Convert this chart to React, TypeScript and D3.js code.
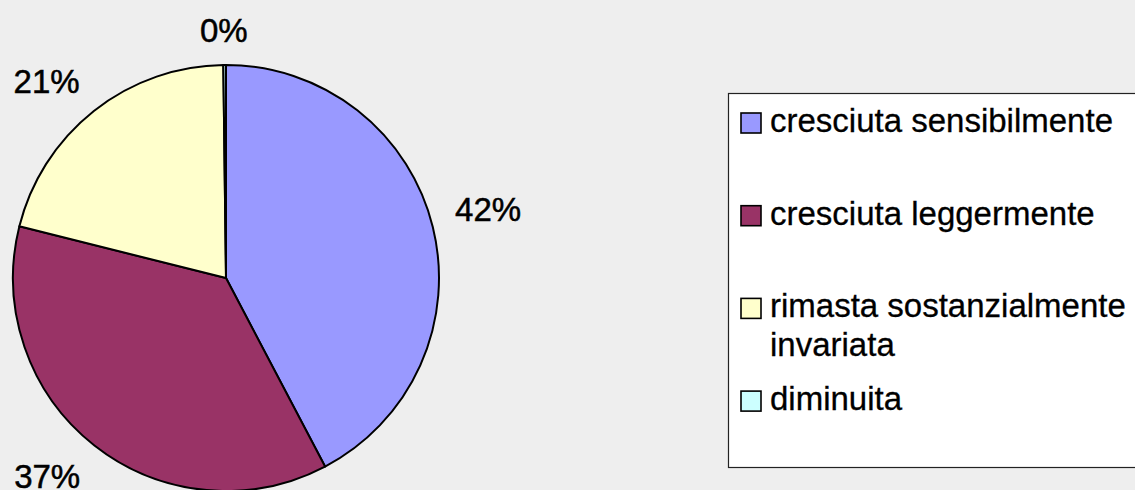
import React from "react";
import * as d3 from "d3";

const categories = [
  "cresciuta sensibilmente",
  "cresciuta leggermente",
  "rimasta sostanzialmente|invariata",
  "diminuita",
];
const values = [42.3, 36.6, 20.9, 0.2];
const colors = ["#9999FF", "#993366", "#FFFFCC", "#CCFFFF"];

const W = 1135;
const H = 490;
const CX = 226;
const CY = 278;
const R = 213;
const FONT = "'Liberation Sans', Arial, Helvetica, sans-serif";
const FS = 33;

export default function App() {
  const total = d3.sum(values);
  const pie = d3.pie<number>().sort(null).startAngle(0).endAngle(2 * Math.PI);
  const arcs = pie(values);
  const arc = d3.arc<d3.PieArcDatum<number>>().innerRadius(0).outerRadius(R);
  const fmt = (v: number) => `${Math.round((v / total) * 100)}%`;

  // Label box: its nearest corner sits on the mid-angle ray, just outside the pie
  const labelPos = (a: d3.PieArcDatum<number>, text: string) => {
    const mid = (a.startAngle + a.endAngle) / 2;
    const s = Math.sin(mid);
    const c = Math.cos(mid);
    const halfW = (text.length === 2 ? 1.445 : 2.0) * FS / 2;
    const halfH = 12;
    const gap = 23;
    const d = R + gap;
    const kx = Math.abs(s) > 0.2 ? Math.sign(s) : s / 0.2;
    const ky = Math.abs(c) > 0.2 ? Math.sign(c) : c / 0.2;
    return { x: CX + s * d + kx * halfW, y: CY - c * d - ky * halfH };
  };

  const legendX = 728;
  const legendY = 93;
  const legendBottom = 467;

  return (
    <div style={{ position: "absolute", left: 0, top: 0 }}>
      <svg width={W} height={H} style={{ display: "block" }}>
        <rect x={0} y={0} width={W} height={H} fill="#EEEEEE" />
        <g transform={`translate(${CX},${CY})`}>
          {arcs.map((a, i) => (
            <path
              key={i}
              d={arc(a) || ""}
              fill={colors[i]}
              stroke="#000"
              strokeWidth={2}
              strokeLinejoin="round"
            />
          ))}
        </g>
        {arcs.map((a, i) => {
          const t = fmt(values[i]);
          const p = labelPos(a, t);
          return (
            <text
              key={i}
              x={p.x}
              y={p.y + 12}
              textAnchor="middle"
              fontFamily={FONT}
              fontSize={FS}
              fill="#000"
              stroke="#000"
              strokeWidth={0.5}
            >
              {t}
            </text>
          );
        })}
        <rect
          x={legendX + 0.5}
          y={legendY + 0.5}
          width={W - legendX + 10}
          height={legendBottom - legendY}
          fill="#FFFFFF"
          stroke="#222"
          strokeWidth={1.2}
        />
        {categories.map((cat, i) => {
          const base = 132 + i * 92.7;
          const lines = cat.split("|");
          return (
            <g key={i}>
              <rect
                x={741}
                y={base - 19}
                width={20}
                height={20}
                fill={colors[i]}
                stroke="#000"
                strokeWidth={1.6}
              />
              {lines.map((ln, j) => (
                <text
                  key={j}
                  x={770}
                  y={base + j * 39}
                  fontFamily={FONT}
                  fontSize={FS}
                  fill="#000"
                  stroke="#000"
                  strokeWidth={0.3}
                  textLength={undefined}
                >
                  {ln}
                </text>
              ))}
            </g>
          );
        })}
      </svg>
    </div>
  );
}
